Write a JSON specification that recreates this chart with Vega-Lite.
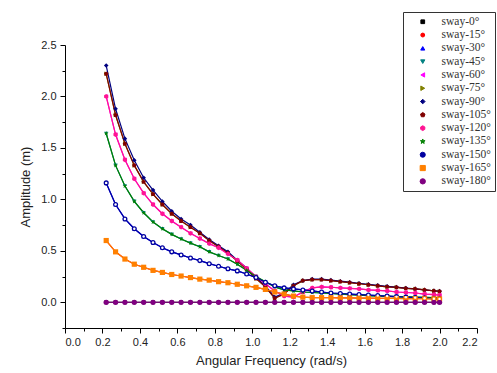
{
"$schema": "https://vega.github.io/schema/vega-lite/v6.json",
"width": 412, "height": 283,
"autosize": "none",
"padding": {"left": 65, "top": 45, "right": 20, "bottom": 45},
"background": "white",
"config": {"view": {"stroke": null}, "legend": {"labelFont": "Liberation Serif", "labelFontSize": 11.5, "labelColor": "#333"}},
"data": {"values": [
{"w":0.22,"s0":0,"s15":0.60,"s30":1.16,"s45":1.64,"s60":2.00,"s75":2.22,"s90":2.30,"s105":2.22,"s120":2.00,"s135":1.64,"s150":1.16,"s165":0.60,"s180":0},
{"w":0.27,"s0":0,"s15":0.49,"s30":0.95,"s45":1.33,"s60":1.63,"s75":1.82,"s90":1.88,"s105":1.82,"s120":1.63,"s135":1.33,"s150":0.95,"s165":0.49,"s180":0},
{"w":0.32,"s0":0,"s15":0.42,"s30":0.81,"s45":1.13,"s60":1.385,"s75":1.54,"s90":1.59,"s105":1.54,"s120":1.385,"s135":1.13,"s150":0.81,"s165":0.42,"s180":0},
{"w":0.37,"s0":0,"s15":0.37,"s30":0.715,"s45":0.98,"s60":1.20,"s75":1.33,"s90":1.38,"s105":1.33,"s120":1.20,"s135":0.98,"s150":0.715,"s165":0.37,"s180":0},
{"w":0.42,"s0":0,"s15":0.34,"s30":0.64,"s45":0.87,"s60":1.06,"s75":1.17,"s90":1.21,"s105":1.17,"s120":1.06,"s135":0.87,"s150":0.64,"s165":0.34,"s180":0},
{"w":0.47,"s0":0,"s15":0.31,"s30":0.58,"s45":0.78,"s60":0.95,"s75":1.05,"s90":1.09,"s105":1.05,"s120":0.95,"s135":0.78,"s150":0.58,"s165":0.31,"s180":0},
{"w":0.52,"s0":0,"s15":0.29,"s30":0.53,"s45":0.715,"s60":0.86,"s75":0.95,"s90":0.98,"s105":0.95,"s120":0.86,"s135":0.715,"s150":0.53,"s165":0.29,"s180":0},
{"w":0.57,"s0":0,"s15":0.27,"s30":0.49,"s45":0.66,"s60":0.79,"s75":0.86,"s90":0.885,"s105":0.86,"s120":0.79,"s135":0.66,"s150":0.49,"s165":0.27,"s180":0},
{"w":0.62,"s0":0,"s15":0.255,"s30":0.46,"s45":0.615,"s60":0.73,"s75":0.79,"s90":0.81,"s105":0.79,"s120":0.73,"s135":0.615,"s150":0.46,"s165":0.255,"s180":0},
{"w":0.67,"s0":0,"s15":0.24,"s30":0.43,"s45":0.575,"s60":0.67,"s75":0.73,"s90":0.75,"s105":0.73,"s120":0.67,"s135":0.575,"s150":0.43,"s165":0.24,"s180":0},
{"w":0.72,"s0":0,"s15":0.225,"s30":0.405,"s45":0.54,"s60":0.62,"s75":0.67,"s90":0.68,"s105":0.67,"s120":0.62,"s135":0.54,"s150":0.405,"s165":0.225,"s180":0},
{"w":0.77,"s0":0,"s15":0.215,"s30":0.375,"s45":0.49,"s60":0.57,"s75":0.60,"s90":0.61,"s105":0.60,"s120":0.57,"s135":0.49,"s150":0.375,"s165":0.215,"s180":0},
{"w":0.82,"s0":0,"s15":0.20,"s30":0.35,"s45":0.455,"s60":0.53,"s75":0.54,"s90":0.55,"s105":0.54,"s120":0.53,"s135":0.455,"s150":0.35,"s165":0.20,"s180":0},
{"w":0.87,"s0":0,"s15":0.19,"s30":0.325,"s45":0.42,"s60":0.47,"s75":0.48,"s90":0.49,"s105":0.48,"s120":0.47,"s135":0.42,"s150":0.325,"s165":0.19,"s180":0},
{"w":0.92,"s0":0,"s15":0.175,"s30":0.305,"s45":0.37,"s60":0.41,"s75":0.40,"s90":0.41,"s105":0.40,"s120":0.41,"s135":0.37,"s150":0.305,"s165":0.175,"s180":0},
{"w":0.97,"s0":0,"s15":0.16,"s30":0.275,"s45":0.31,"s60":0.33,"s75":0.32,"s90":0.33,"s105":0.32,"s120":0.33,"s135":0.31,"s150":0.275,"s165":0.16,"s180":0},
{"w":1.02,"s0":0,"s15":0.145,"s30":0.24,"s45":0.25,"s60":0.25,"s75":0.23,"s90":0.24,"s105":0.23,"s120":0.25,"s135":0.25,"s150":0.24,"s165":0.145,"s180":0},
{"w":1.07,"s0":0,"s15":0.125,"s30":0.195,"s45":0.20,"s60":0.18,"s75":0.15,"s90":0.16,"s105":0.15,"s120":0.18,"s135":0.20,"s150":0.195,"s165":0.125,"s180":0},
{"w":1.12,"s0":0,"s15":0.10,"s30":0.16,"s45":0.15,"s60":0.11,"s75":0.04,"s90":0.05,"s105":0.04,"s120":0.11,"s135":0.15,"s150":0.16,"s165":0.10,"s180":0},
{"w":1.17,"s0":0,"s15":0.08,"s30":0.14,"s45":0.12,"s60":0.06,"s75":0.08,"s90":0.09,"s105":0.08,"s120":0.06,"s135":0.12,"s150":0.14,"s165":0.08,"s180":0},
{"w":1.22,"s0":0,"s15":0.06,"s30":0.13,"s45":0.11,"s60":0.05,"s75":0.16,"s90":0.17,"s105":0.16,"s120":0.05,"s135":0.11,"s150":0.13,"s165":0.06,"s180":0},
{"w":1.27,"s0":0,"s15":0.05,"s30":0.12,"s45":0.10,"s60":0.10,"s75":0.21,"s90":0.21,"s105":0.21,"s120":0.10,"s135":0.10,"s150":0.12,"s165":0.05,"s180":0},
{"w":1.32,"s0":0,"s15":0.045,"s30":0.11,"s45":0.095,"s60":0.14,"s75":0.22,"s90":0.225,"s105":0.22,"s120":0.14,"s135":0.095,"s150":0.11,"s165":0.045,"s180":0},
{"w":1.37,"s0":0,"s15":0.045,"s30":0.10,"s45":0.09,"s60":0.15,"s75":0.22,"s90":0.225,"s105":0.22,"s120":0.15,"s135":0.09,"s150":0.10,"s165":0.045,"s180":0},
{"w":1.42,"s0":0,"s15":0.044,"s30":0.09,"s45":0.085,"s60":0.146,"s75":0.21,"s90":0.215,"s105":0.21,"s120":0.146,"s135":0.085,"s150":0.09,"s165":0.044,"s180":0},
{"w":1.47,"s0":0,"s15":0.043,"s30":0.085,"s45":0.08,"s60":0.14,"s75":0.20,"s90":0.205,"s105":0.20,"s120":0.14,"s135":0.08,"s150":0.085,"s165":0.043,"s180":0},
{"w":1.52,"s0":0,"s15":0.042,"s30":0.08,"s45":0.075,"s60":0.135,"s75":0.19,"s90":0.195,"s105":0.19,"s120":0.135,"s135":0.075,"s150":0.08,"s165":0.042,"s180":0},
{"w":1.57,"s0":0,"s15":0.041,"s30":0.075,"s45":0.07,"s60":0.13,"s75":0.18,"s90":0.185,"s105":0.18,"s120":0.13,"s135":0.07,"s150":0.075,"s165":0.041,"s180":0},
{"w":1.62,"s0":0,"s15":0.04,"s30":0.07,"s45":0.065,"s60":0.12,"s75":0.17,"s90":0.175,"s105":0.17,"s120":0.12,"s135":0.065,"s150":0.07,"s165":0.04,"s180":0},
{"w":1.67,"s0":0,"s15":0.039,"s30":0.065,"s45":0.06,"s60":0.115,"s75":0.16,"s90":0.165,"s105":0.16,"s120":0.115,"s135":0.06,"s150":0.065,"s165":0.039,"s180":0},
{"w":1.72,"s0":0,"s15":0.038,"s30":0.06,"s45":0.058,"s60":0.11,"s75":0.15,"s90":0.155,"s105":0.15,"s120":0.11,"s135":0.058,"s150":0.06,"s165":0.038,"s180":0},
{"w":1.77,"s0":0,"s15":0.037,"s30":0.055,"s45":0.055,"s60":0.10,"s75":0.145,"s90":0.147,"s105":0.145,"s120":0.10,"s135":0.055,"s150":0.055,"s165":0.037,"s180":0},
{"w":1.82,"s0":0,"s15":0.036,"s30":0.05,"s45":0.052,"s60":0.095,"s75":0.135,"s90":0.138,"s105":0.135,"s120":0.095,"s135":0.052,"s150":0.05,"s165":0.036,"s180":0},
{"w":1.87,"s0":0,"s15":0.035,"s30":0.045,"s45":0.05,"s60":0.09,"s75":0.13,"s90":0.13,"s105":0.13,"s120":0.09,"s135":0.05,"s150":0.045,"s165":0.035,"s180":0},
{"w":1.92,"s0":0,"s15":0.034,"s30":0.04,"s45":0.048,"s60":0.08,"s75":0.12,"s90":0.12,"s105":0.12,"s120":0.08,"s135":0.048,"s150":0.04,"s165":0.034,"s180":0},
{"w":1.97,"s0":0,"s15":0.033,"s30":0.035,"s45":0.045,"s60":0.075,"s75":0.11,"s90":0.112,"s105":0.11,"s120":0.075,"s135":0.045,"s150":0.035,"s165":0.033,"s180":0},
{"w":2.00,"s0":0,"s15":0.032,"s30":0.033,"s45":0.043,"s60":0.07,"s75":0.105,"s90":0.108,"s105":0.105,"s120":0.07,"s135":0.043,"s150":0.033,"s165":0.032,"s180":0}
]},
"transform": [{"fold": ["s0","s15","s30","s45","s60","s75","s90","s105","s120","s135","s150","s165","s180"], "as": ["series","amp"]}],
"encoding": {
  "color": {"field": "series", "type": "nominal",
            "scale": {"domain": ["s0","s15","s30","s45","s60","s75","s90","s105","s120","s135","s150","s165","s180"],
                      "range": ["#000000","#FF0000","#0000FF","#008080","#FF00FF","#808000","#000080","#800000","#FF1493","#008000","#0000A0","#FF8000","#800080"]},
            "legend": {"title": null, "orient": "none", "legendX": 338, "legendY": -33, "labelExpr": "replace(datum.label, 's', 'sway-') + '°'",
                       "labelFont": "Liberation Serif", "labelFontSize": 11.5, "labelColor": "#333", "strokeColor": "#333", "fillColor": "white",
                       "padding": 4, "rowPadding": 0.3, "symbolSize": 30, "symbolOffset": 10, "labelOffset": 13, "symbolStrokeWidth": 1}}
},
"layer": [
  {"mark": {"type": "line", "strokeWidth": 1.2},
   "encoding": {
    "x": {"field": "w", "type": "quantitative", "scale": {"domain": [0, 2.2], "nice": false, "zero": false},
        "axis": {"title": "Angular Frequency (rad/s)", "values": [0,0.2,0.4,0.6,0.8,1.0,1.2,1.4,1.6,1.8,2.0,2.2], "format": ".1f",
                 "grid": false, "domainColor": "black", "tickColor": "black", "tickSize": 5, "labelFontSize": 11, "labelColor": "#222",
                 "labelPadding": 3, "titleFontSize": 13, "titleFontWeight": "normal", "titleColor": "#222", "titlePadding": 7, "labelFont": "Liberation Sans", "titleFont": "Liberation Sans", "orient": "bottom"}},
    "y": {"field": "amp", "type": "quantitative", "scale": {"domain": [-0.25, 2.5], "nice": false, "zero": false},
        "axis": {"title": "Amplitude (m)", "values": [0,0.5,1.0,1.5,2.0,2.5], "format": ".1f",
                 "grid": false, "domainColor": "black", "tickColor": "black", "tickSize": 5, "labelFontSize": 11, "labelColor": "#222",
                 "labelPadding": 4, "titleFontSize": 13, "titleFontWeight": "normal", "titleColor": "#222", "titlePadding": 8, "labelFont": "Liberation Sans", "titleFont": "Liberation Sans", "orient": "left"}}}},
  {"mark": {"type": "point", "filled": true, "opacity": 1},
   "encoding": {
     "x": {"field": "w", "type": "quantitative", "axis": null},
     "y": {"field": "amp", "type": "quantitative", "axis": null},
     "size": {"field": "series", "type": "nominal", "legend": null,
       "scale": {"domain": ["s0","s15","s30","s45","s60","s75","s90","s105","s120","s135","s150","s165","s180"],
                 "range": [14,28,20,22,22,22,30,28,28,34,28,24,28]}},
     "shape": {"field": "series", "type": "nominal",
     "scale": {"domain": ["s0","s15","s30","s45","s60","s75","s90","s105","s120","s135","s150","s165","s180"],
               "range": ["square","circle","triangle-up","triangle-down","triangle-left","triangle-right","diamond",
                         "M0,-1L0.951,-0.309L0.588,0.809L-0.588,0.809L-0.951,-0.309Z",
                         "M0,-1L0.866,-0.5L0.866,0.5L0,1L-0.866,0.5L-0.866,-0.5Z",
                         "M0,-1L0.24,-0.33L0.95,-0.31L0.38,0.12L0.59,0.81L0,0.4L-0.59,0.81L-0.38,0.12L-0.95,-0.31L-0.24,-0.33Z",
                         "circle","square","circle"]},
     "legend": {"title": null, "orient": "none", "legendX": 338, "legendY": -33, "labelExpr": "replace(datum.label, 's', 'sway-') + '°'",
                "labelFont": "Liberation Serif", "labelFontSize": 11.5, "labelColor": "#333", "strokeColor": "#333", "fillColor": "white",
                "padding": 4, "rowPadding": 0.3, "symbolSize": 30, "symbolOffset": 10, "labelOffset": 13}}}},
  {"transform": [{"filter": "datum.series === 's150'"}],
   "mark": {"type": "point", "filled": true, "size": 6, "opacity": 1},
   "encoding": {"color": {"value": "white"},
     "x": {"field": "w", "type": "quantitative", "axis": {"values": [0.1,0.3,0.5,0.7,0.9,1.1,1.3,1.5,1.7,1.9,2.1], "labels": false, "title": null, "domain": false, "grid": false, "tickSize": 3, "tickColor": "black", "orient": "bottom"}},
     "y": {"field": "amp", "type": "quantitative", "axis": {"values": [-0.25,0.25,0.75,1.25,1.75,2.25], "labels": false, "title": null, "domain": false, "grid": false, "tickSize": 3, "tickColor": "black", "orient": "left"}}}}
],
"resolve": {"axis": {"x": "independent", "y": "independent"}}
}
